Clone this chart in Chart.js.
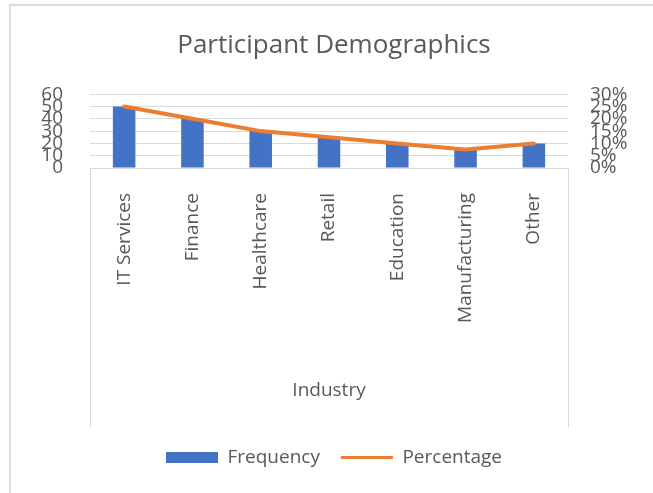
<!DOCTYPE html>
<html>
<head>
<meta charset="utf-8">
<script src="https://cdn.jsdelivr.net/npm/chart.js@4.4.1/dist/chart.umd.min.js"></script>
<style>
  html, body { margin: 0; padding: 0; background: #ffffff; }
  #frame { position: absolute; left: 9px; top: 4px; width: 1000px; height: 1000px; border: 2px solid #dcdcdc; box-sizing: border-box; }
  #wrap { position: absolute; left: 0; top: 0; width: 653px; height: 493px; }
</style>
</head>
<body>
<div id="frame"></div>
<div id="wrap"><canvas id="c" width="653" height="493"></canvas></div>
<script>
const chartTitle = 'Participant Demographics';
const categories = ['IT Services', 'Finance', 'Healthcare', 'Retail', 'Education', 'Manufacturing', 'Other'];
const frequency = [50, 40, 30, 25, 20, 15, 20];
const percentage = [25, 20, 15, 12.5, 10, 7.5, 10];
const leftTicks = [0, 10, 20, 30, 40, 50, 60];
const rightTicks = [0, 5, 10, 15, 20, 25, 30];
const xAxisTitle = 'Industry';

const FONT = '"Open Sans", Lato, sans-serif';
const TXT = '#595959';
const GRID = '#d9d9d9';

const edgeLines = {
  id: 'edgeLines',
  afterDraw(chart) {
    const {ctx, chartArea} = chart;
    const xs = chart.scales.x;
    ctx.save();
    ctx.strokeStyle = GRID;
    ctx.lineWidth = 1;
    ctx.beginPath();
    [chartArea.left, chartArea.right].forEach(x => {
      ctx.moveTo(Math.round(x) + 0.5, chartArea.bottom);
      ctx.lineTo(Math.round(x) + 0.5, xs.bottom);
    });
    ctx.stroke();
    ctx.restore();
  }
};

new Chart(document.getElementById('c'), {
  data: {
    labels: categories,
    datasets: [
      {
        type: 'bar',
        label: 'Frequency',
        data: frequency,
        backgroundColor: '#4472C4',
        borderWidth: 0,
        yAxisID: 'y',
        order: 1,
        categoryPercentage: 1,
        barPercentage: 0.33
      },
      {
        type: 'line',
        label: 'Percentage',
        data: percentage,
        borderColor: '#ED7D31',
        backgroundColor: '#ED7D31',
        borderWidth: 4,
        borderCapStyle: 'round',
        borderJoinStyle: 'round',
        pointRadius: 0,
        tension: 0,
        yAxisID: 'y1',
        order: 0
      }
    ]
  },
  options: {
    responsive: false,
    animation: false,
    layout: { padding: { left: 15, right: 0, top: 0, bottom: 16 } },
    plugins: {
      title: {
        display: true,
        text: chartTitle,
        color: TXT,
        font: { family: FONT, size: 26, weight: 'normal', lineHeight: 1.2 },
        padding: { top: 30, bottom: 33 }
      },
      legend: {
        position: 'bottom',
        labels: {
          color: TXT,
          font: { family: FONT, size: 19 },
          usePointStyle: true,
          pointStyleWidth: 52,
          boxHeight: 11,
          padding: 21,
          sort: (a, b) => a.datasetIndex - b.datasetIndex,
          generateLabels(chart) {
            return chart.data.datasets.map((ds, i) => ({
              text: ds.label,
              datasetIndex: i,
              fillStyle: ds.type === 'bar' ? ds.backgroundColor : 'transparent',
              strokeStyle: ds.type === 'bar' ? ds.backgroundColor : ds.borderColor,
              lineWidth: ds.type === 'bar' ? 0 : 3,
              pointStyle: ds.type === 'bar' ? 'rect' : 'line',
              fontColor: TXT,
              hidden: false
            }));
          }
        }
      },
      tooltip: { enabled: false }
    },
    scales: {
      x: {
        grid: { display: false },
        border: { display: true, color: GRID },
        ticks: {
          color: TXT,
          font: { family: FONT, size: 19 },
          minRotation: 90,
          maxRotation: 90,
          padding: 17,
          autoSkip: false
        },
        title: {
          display: true,
          text: xAxisTitle,
          color: TXT,
          font: { family: FONT, size: 19, lineHeight: 1.2 },
          padding: { top: 0, bottom: 25 }
        },
        afterFit(s) { s.height = 259; }
      },
      y: {
        position: 'left',
        min: 0,
        max: 60,
        afterBuildTicks(s) { s.ticks = leftTicks.map(v => ({ value: v })); },
        grid: { color: GRID, drawTicks: false },
        border: { display: false },
        ticks: {
          color: TXT,
          font: { family: FONT, size: 19 },
          padding: 27,
          autoSkip: false
        },
        afterFit(s) { s.width = 75; }
      },
      y1: {
        position: 'right',
        min: 0,
        max: 30,
        afterBuildTicks(s) { s.ticks = rightTicks.map(v => ({ value: v })); },
        grid: { drawOnChartArea: false, drawTicks: false },
        border: { display: false },
        ticks: {
          color: TXT,
          font: { family: FONT, size: 19 },
          padding: 22,
          autoSkip: false,
          callback: v => v + '%'
        },
        afterFit(s) { s.width = 85; }
      }
    }
  },
  plugins: [edgeLines]
});
</script>
</body>
</html>
